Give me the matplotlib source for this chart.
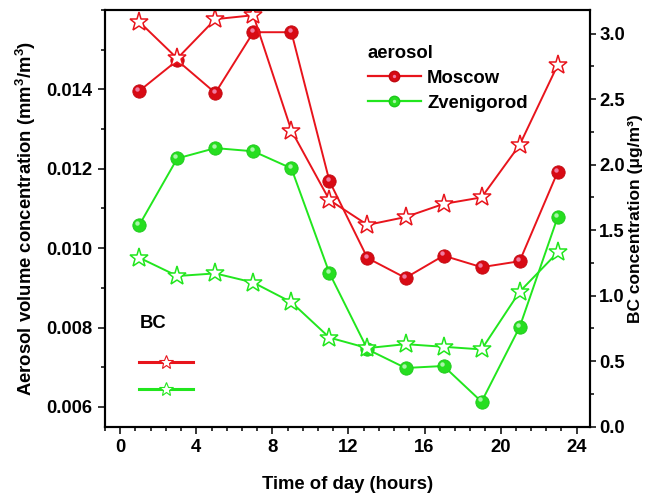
import matplotlib
matplotlib.use('Agg')
import matplotlib.pyplot as plt
from matplotlib.lines import Line2D
from matplotlib.ticker import MultipleLocator
from matplotlib.transforms import offset_copy
from matplotlib.legend_handler import HandlerTuple

# dane
hours = [1, 3, 5, 7, 9, 11, 13, 15, 17, 19, 21, 23]
moscow_aerosol = [0.01396, 0.01473, 0.01391, 0.01544, 0.01544, 0.01169,
                  0.00975, 0.00925, 0.00981, 0.00952, 0.00967, 0.01192]
zven_aerosol = [0.01058, 0.01226, 0.01252, 0.01244, 0.01201, 0.00937,
                0.00745, 0.00698, 0.00703, 0.00613, 0.00801, 0.01078]
moscow_bc = [3.09, 2.81, 3.11, 3.14, 2.26, 1.73, 1.54, 1.60, 1.70, 1.75, 2.15, 2.76]
zven_bc = [1.29, 1.15, 1.17, 1.10, 0.95, 0.68, 0.60, 0.63, 0.61, 0.59, 1.03, 1.33]

x_ticks = [0, 4, 8, 12, 16, 20, 24]
left_ticks = [0.006, 0.008, 0.010, 0.012, 0.014]
right_ticks = [0.0, 0.5, 1.0, 1.5, 2.0, 2.5, 3.0]

red = '#e8141c'
green = '#22e61e'

plt.rcParams['font.family'] = ['Liberation Sans', 'DejaVu Sans']
plt.rcParams['font.weight'] = 'bold'
plt.rcParams['mathtext.fontset'] = 'custom'
plt.rcParams['mathtext.rm'] = 'Liberation Sans:bold'
plt.rcParams['mathtext.default'] = 'rm'

fs = 13.3

fig = plt.figure(figsize=(6.5, 4.97), dpi=100)
ax_l, ax_r = 105.0, 590.0   # pixels
ax = fig.add_axes([ax_l / 650, 0.1414, (ax_r - ax_l) / 650, 0.8385])
ax2 = ax.twinx()

# aerosol (circulos com brilho)
hl = offset_copy(ax.transData, fig=fig, x=-1.3, y=1.6, units='points')
ax.plot(hours, moscow_aerosol, color=red, lw=1.4, marker='o', ms=9.6,
        mfc='#d80a14', mec='#c00810', mew=0.6)
ax.plot(hours, moscow_aerosol, ls='none', marker='o', ms=3.2,
        mfc='#f07aa0', mec='none', transform=hl)
ax.plot(hours, zven_aerosol, color=green, lw=1.4, marker='o', ms=9.6,
        mfc='#26de20', mec='#1cc81a', mew=0.6)
ax.plot(hours, zven_aerosol, ls='none', marker='o', ms=3.2,
        mfc='#a8f5a8', mec='none', transform=hl)

# BC (estrelas ocas)
ax2.plot(hours, moscow_bc, color=red, lw=1.4, marker='*', ms=14,
         mfc='white', mec=red, mew=1.1)
ax2.plot(hours, zven_bc, color=green, lw=1.4, marker='*', ms=14,
         mfc='white', mec=green, mew=1.1)

ax.set_xlim(-0.8, 24.7)
ax.set_ylim(0.0055, 0.0160)
ax2.set_ylim(0.0, 3.18)

ax.set_xticks(x_ticks)
ax.set_yticks(left_ticks)
ax.set_yticklabels(['%.3f' % v for v in left_ticks])
ax2.set_yticks(right_ticks)
ax2.set_yticklabels(['%.1f' % v for v in right_ticks])
ax.xaxis.set_minor_locator(MultipleLocator(0.8))
ax.yaxis.set_minor_locator(MultipleLocator(0.001))
ax2.yaxis.set_minor_locator(MultipleLocator(0.25))

for a in (ax, ax2):
    for s in a.spines.values():
        s.set_linewidth(1.5)
ax.tick_params(which='major', direction='out', length=5, width=1.1, labelsize=fs, pad=4)
ax.tick_params(which='minor', direction='out', length=2.7, width=1.1)
ax.tick_params(axis='y', which='both', right=False)
ax.tick_params(axis='x', which='both', top=False)
ax2.tick_params(which='major', direction='out', length=4, width=1.1, labelsize=fs, pad=2.5)
ax2.tick_params(which='minor', direction='out', length=2.7, width=1.1)

ax.set_xlabel('Time of day (hours)', fontsize=fs, fontweight='bold', labelpad=14)
ax.set_ylabel('Aerosol volume concentration (mm$^3$/m$^3$)', fontsize=fs,
              fontweight='bold', labelpad=6)
ax2.set_ylabel('BC concentration (\u03bcg/m\u00b3)', fontsize=12.5, fontweight='bold',
               rotation=90)
# rotulo da direita encostado a margem, como no original
ax2.yaxis.set_label_coords((628 - ax_l) / (ax_r - ax_l), 0.5)

# legendas
h_m = (Line2D([], [], color=red, lw=1.6, marker='o', ms=7.5, mfc='#d80a14', mec='#c00810'),
       Line2D([], [], ls='none', marker='o', ms=2.4, mfc='#f07aa0', mec='none'))
h_z = (Line2D([], [], color=green, lw=1.6, marker='o', ms=7.5, mfc='#26de20', mec='#1cc81a'),
       Line2D([], [], ls='none', marker='o', ms=2.4, mfc='#a8f5a8', mec='none'))
leg1 = ax2.legend([h_m, h_z], ['Moscow', 'Zvenigorod'], title='aerosol',
                  handler_map={tuple: HandlerTuple(ndivide=1)},
                  loc='upper left', bbox_to_anchor=(368 / 650, 1 - 45 / 497),
                  bbox_transform=fig.transFigure, frameon=False, borderaxespad=0,
                  borderpad=0, handlelength=2.85, handletextpad=0.35,
                  labelspacing=0.42, fontsize=fs, title_fontsize=fs,
                  alignment='left')
leg1.get_title().set_fontweight('bold')
ax2.add_artist(leg1)

h_rb = Line2D([], [], color=red, lw=2.2, marker='*', ms=10, mfc='white', mec=red, mew=0.8)
h_zb = Line2D([], [], color=green, lw=2.2, marker='*', ms=10, mfc='white', mec=green, mew=0.8)
leg2 = ax2.legend([h_rb, h_zb], ['', ''],
                  loc='upper left', bbox_to_anchor=(139 / 650, 1 - 355 / 497),
                  bbox_transform=fig.transFigure, frameon=False, borderaxespad=0,
                  borderpad=0, handlelength=2.95, handletextpad=0.0,
                  labelspacing=0.57, fontsize=fs)
fig.text(140 / 650, 1 - 323 / 497, 'BC', fontsize=fs, fontweight='bold',
         ha='left', va='center')

fig.savefig('out.png', dpi=100)
